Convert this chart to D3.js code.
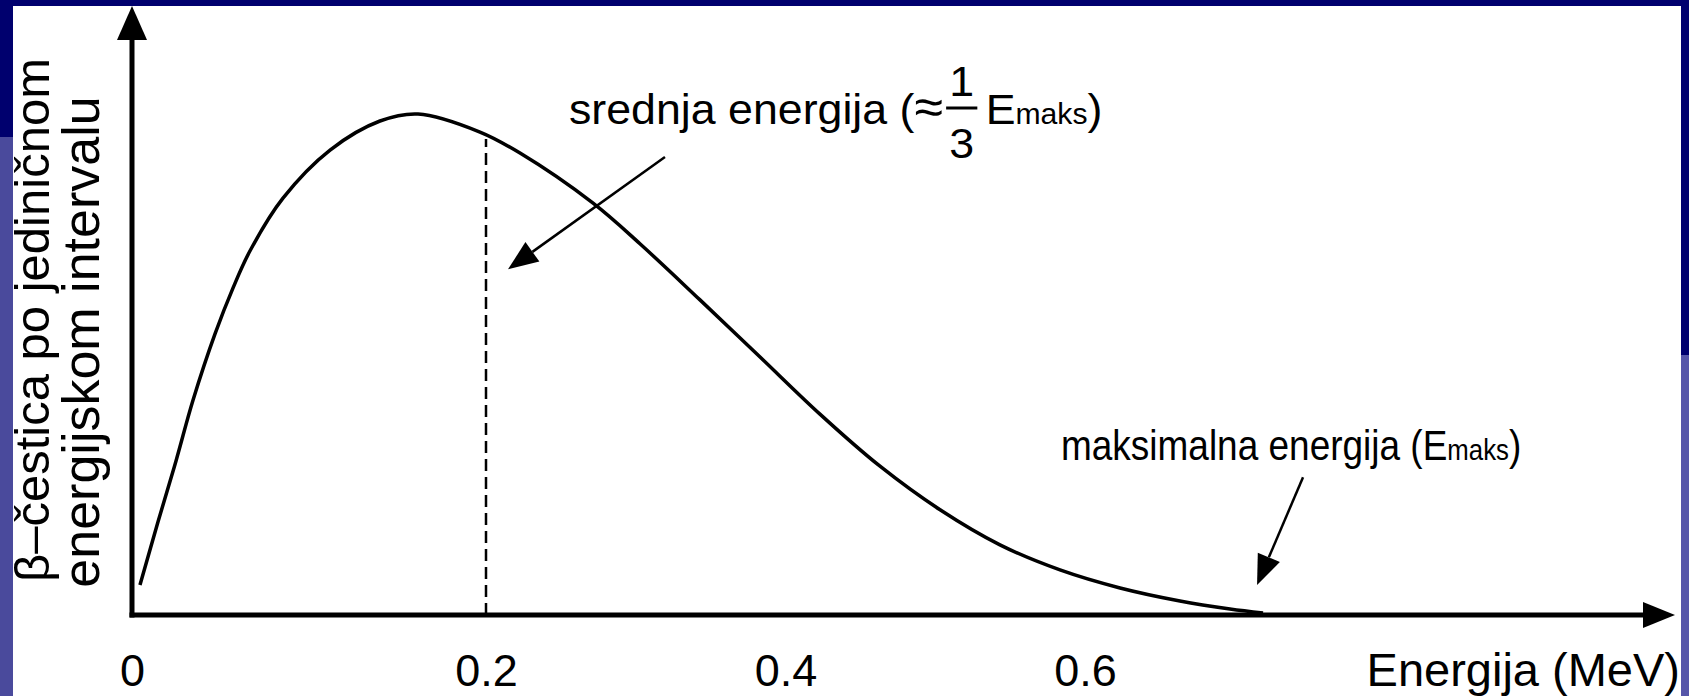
<!DOCTYPE html>
<html>
<head>
<meta charset="utf-8">
<script src="https://cdn.jsdelivr.net/npm/d3@7"></script>
<style>
  body { margin: 0; background: #00006e; }
  svg { display: block; font-family: "Liberation Sans", Arial, sans-serif; }
</style>
</head>
<body>
<div id="chart"></div>
<script>
// values (x in MeV, y relative to the peak)
const energy = [0.0045, 0.0147, 0.0249, 0.0345, 0.0469, 0.0571, 0.0667, 0.0853, 0.1119, 0.1401,
                0.1616, 0.1966, 0.2227, 0.2715, 0.3028, 0.3429, 0.3830, 0.4230, 0.4631, 0.5032,
                0.5432, 0.5833, 0.6234, 0.6634, 0.6968, 0.7189];
const counts = [0.060, 0.186, 0.308, 0.429, 0.561, 0.653, 0.727, 0.832, 0.928, 0.986,
                1.000, 0.964, 0.922, 0.822, 0.741, 0.629, 0.515, 0.401, 0.297, 0.210,
                0.140, 0.090, 0.054, 0.028, 0.012, 0.004];
const tickValues = [0, 0.2, 0.4, 0.6];
const tickLabels = ["0", "0.2", "0.4", "0.6"];
const meanEnergy = 0.2;
const meanTop = 0.95;
const meanArrow = [[0.3195, 0.914], [0.2147, 0.690]];
const maxArrow  = [[0.7456, 0.275], [0.7149, 0.060]];
const yLabelLines = ["β–čestica po jediničnom", "energijskom intervalu"];
const xTitle = "Energija (MeV)";

const W = 1689, H = 696;
const FONT = "Liberation Sans, Arial, sans-serif";

const svg = d3.select("#chart").append("svg")
  .attr("width", W)
  .attr("height", H);

// slide frame
svg.append("rect").attr("width", W).attr("height", H).attr("fill", "#00006e");
svg.append("rect").attr("x", 0).attr("y", 137).attr("width", 13).attr("height", H - 137).attr("fill", "#4a4a9c");
svg.append("rect").attr("x", 1681).attr("y", 355).attr("width", 8).attr("height", H - 355).attr("fill", "#5656a9");
svg.append("rect").attr("x", 13).attr("y", 6).attr("width", 1668).attr("height", H - 6).attr("fill", "#fff");

// scales (x axis of the slide is not evenly spaced below 0.2)
const x0 = 132, y0 = 615;
const x = d3.scaleLinear().domain([0, 0.2, 0.6]).range([x0, 486, 1085]);
const y = d3.scaleLinear().domain([0, 1]).range([y0, 114]);

// tick labels
const xAxis = svg.append("g")
  .attr("transform", `translate(0,${y0})`)
  .call(d3.axisBottom(x)
    .tickValues(tickValues)
    .tickFormat((d, i) => tickLabels[i])
    .tickSize(0)
    .tickPadding(39));
xAxis.select(".domain").remove();
xAxis.attr("font-family", FONT).attr("font-size", 45);
xAxis.selectAll("text").attr("fill", "#000");

// axis lines with arrow heads
svg.append("line")
  .attr("x1", x0).attr("x2", x0)
  .attr("y1", y0 + 2.5).attr("y2", 38)
  .attr("stroke", "#000").attr("stroke-width", 5);
svg.append("path")
  .attr("d", `M${x0},6L${x0 - 15},40L${x0 + 15},40Z`)
  .attr("fill", "#000");

svg.append("line")
  .attr("x1", x0 - 2.5).attr("x2", 1645)
  .attr("y1", y0).attr("y2", y0)
  .attr("stroke", "#000").attr("stroke-width", 5);
svg.append("path")
  .attr("d", `M1675,${y0}L1643,${y0 - 13}L1643,${y0 + 13}Z`)
  .attr("fill", "#000");

// spectrum curve
const pts = energy.map((e, i) => [e, counts[i]]);
const lineGen = d3.line()
  .x(d => x(d[0]))
  .y(d => y(d[1]))
  .curve(d3.curveCatmullRom.alpha(0.5));

svg.append("path")
  .datum(pts)
  .attr("d", lineGen)
  .attr("fill", "none")
  .attr("stroke", "#000")
  .attr("stroke-width", 3.5);

// mean energy marker
svg.append("line")
  .attr("x1", x(meanEnergy)).attr("x2", x(meanEnergy))
  .attr("y1", y(0)).attr("y2", y(meanTop))
  .attr("stroke", "#000")
  .attr("stroke-width", 2.5)
  .attr("stroke-dasharray", "12 6");

// annotation arrows
function arrow(p) {
  const [ax, ay] = [x(p[0][0]), y(p[0][1])];
  const [bx, by] = [x(p[1][0]), y(p[1][1])];
  const ang = Math.atan2(by - ay, bx - ax);
  const len = 30, hw = 12;
  const cx = bx - len * Math.cos(ang), cy = by - len * Math.sin(ang);
  svg.append("line")
    .attr("x1", ax).attr("y1", ay).attr("x2", cx).attr("y2", cy)
    .attr("stroke", "#000").attr("stroke-width", 2.5);
  const nx = -Math.sin(ang) * hw, ny = Math.cos(ang) * hw;
  svg.append("path")
    .attr("d", `M${bx},${by}L${cx + nx},${cy + ny}L${cx - nx},${cy - ny}Z`)
    .attr("fill", "#000");
}
arrow(meanArrow);
arrow(maxArrow);

// "srednja energija (≈ 1/3 Emaks)"
const fs = 43;
const sg = svg.append("g").attr("transform", "translate(569,124) scale(1.04,1)");
const lab = sg.append("text")
  .attr("font-size", fs)
  .text("srednja energija (");
lab.append("tspan").attr("font-size", 50).text("≈");
const fx = lab.node().getComputedTextLength() + 3;
sg.append("text").attr("x", fx + 15).attr("y", -28)
  .attr("text-anchor", "middle").attr("font-size", fs).text("1");
sg.append("line")
  .attr("x1", fx).attr("x2", fx + 30)
  .attr("y1", -16).attr("y2", -16)
  .attr("stroke", "#000").attr("stroke-width", 3);
sg.append("text").attr("x", fx + 15).attr("y", 34)
  .attr("text-anchor", "middle").attr("font-size", fs).text("3");
const em = sg.append("text")
  .attr("x", fx + 38)
  .attr("font-size", fs)
  .text("E");
em.append("tspan").attr("font-size", 29).text("maks");
em.append("tspan").text(")");

// "maksimalna energija (Emaks)"
const mx = svg.append("text")
  .attr("transform", "translate(1061,460) scale(0.86,1)")
  .attr("font-size", fs)
  .text("maksimalna energija (E");
mx.append("tspan").attr("font-size", 30).text("maks");
mx.append("tspan").text(")");

// axis titles
svg.append("text")
  .attr("x", 1680).attr("y", 686)
  .attr("text-anchor", "end")
  .attr("font-size", 47)
  .text(xTitle);

const ylab = [{ x: 49, y: 320, size: 49 }, { x: 99, y: 342, size: 52 }];
svg.selectAll("text.ylab")
  .data(yLabelLines)
  .join("text")
    .attr("class", "ylab")
    .attr("transform", (d, i) => `translate(${ylab[i].x},${ylab[i].y}) rotate(-90)`)
    .attr("text-anchor", "middle")
    .attr("font-size", (d, i) => ylab[i].size)
    .text(d => d);
</script>
</body>
</html>
